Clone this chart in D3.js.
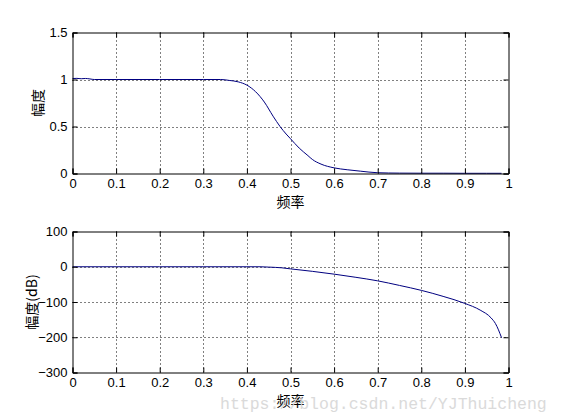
<!DOCTYPE html>
<html><head><meta charset="utf-8">
<script src="https://cdn.jsdelivr.net/npm/d3@7"></script>
<style>body{margin:0;background:#fff}svg{display:block}</style>
</head><body>
<script>
// Data
const magFreq = [0, 0.01, 0.02, 0.03, 0.04, 0.05, 0.1, 0.2, 0.3, 0.34, 0.36, 0.38, 0.40, 0.42, 0.44, 0.46, 0.476, 0.49, 0.50, 0.52, 0.54, 0.55, 0.57, 0.60, 0.63, 0.66, 0.68, 0.70, 0.75, 0.80, 0.85, 0.90, 0.95, 0.984];
const magVal  = [1.01, 1.012, 1.008, 1.011, 1.006, 1.0, 1.0, 1.0, 1.0, 1.0, 0.99, 0.975, 0.94, 0.87, 0.76, 0.61, 0.50, 0.42, 0.37, 0.27, 0.19, 0.15, 0.10, 0.06, 0.04, 0.025, 0.015, 0.008, 0.004, 0.003, 0.003, 0.002, 0.002, 0.002];
const dbFreq = [0, 0.1, 0.2, 0.3, 0.4, 0.43, 0.45, 0.48, 0.5, 0.55, 0.6, 0.65, 0.7, 0.75, 0.8, 0.85, 0.9, 0.935, 0.96, 0.97, 0.984];
const dbVal  = [0, 0, 0, 0, 0, 0, -1, -3, -6, -13, -21, -30, -40, -53, -67, -84, -104, -123, -145, -161, -201];
const xTicks = [0, 0.1, 0.2, 0.3, 0.4, 0.5, 0.6, 0.7, 0.8, 0.9, 1];
const magTicks = [0, 0.5, 1, 1.5];
const dbTicks = [-300, -200, -100, 0, 100];
const xLabel = "频率";
const magLabel = "幅度";
const dbLabel = "幅度(dB)";
const watermark = "https://blog.csdn.net/YJThuicheng";

const W = 561, H = 420;
const svg = d3.select("body").append("svg").attr("width", W).attr("height", H);

const fontTick = "'Liberation Sans', Arial, sans-serif";
const fontCJK = "'Noto Sans CJK SC', sans-serif";

function panel(top, bottom, yDomain, yTicks, freq, vals, yLab, yLabX, xLabY) {
  const x = d3.scaleLinear().domain([0, 1]).range([72.5, 508.5]);
  const y = d3.scaleLinear().domain(yDomain).range([bottom, top]);
  const g = svg.append("g");
  // grid
  g.selectAll(".gx").data(xTicks.slice(1, -1)).join("line")
    .attr("x1", d => Math.round(x(d)) + 0.5).attr("x2", d => Math.round(x(d)) + 0.5)
    .attr("y1", top).attr("y2", bottom)
    .attr("stroke", "#000").attr("stroke-width", 1).attr("stroke-dasharray", "1,3");
  g.selectAll(".gy").data(yTicks.slice(1, -1)).join("line")
    .attr("y1", d => Math.round(y(d)) + 0.5).attr("y2", d => Math.round(y(d)) + 0.5)
    .attr("x1", x(0)).attr("x2", x(1))
    .attr("stroke", "#000").attr("stroke-width", 1).attr("stroke-dasharray", "1,3");
  // data line
  const line = d3.line().x((d, i) => x(freq[i])).y(d => y(d)).curve(d3.curveMonotoneX);
  g.append("path").datum(vals).attr("d", line)
    .attr("fill", "none").attr("stroke", "#000080").attr("stroke-width", 1);
  // axes (inner ticks)
  const bottomAx = d3.axisBottom(x).tickValues(xTicks).tickSize(-5).tickPadding(5).tickFormat(d3.format("~g"));
  const topAx = d3.axisTop(x).tickValues(xTicks).tickSize(-5).tickFormat("");
  const leftAx = d3.axisLeft(y).tickValues(yTicks).tickSize(-5).tickPadding(5).tickFormat(d3.format("~g"));
  const rightAx = d3.axisRight(y).tickValues(yTicks).tickSize(-5).tickFormat("");
  const ax = [
    g.append("g").attr("transform", `translate(0,${bottom})`).call(bottomAx),
    g.append("g").attr("transform", `translate(0,${top})`).call(topAx),
    g.append("g").attr("transform", `translate(${x(0)},0)`).call(leftAx),
    g.append("g").attr("transform", `translate(${x(1)},0)`).call(rightAx)
  ];
  ax.forEach(a => {
    a.select(".domain").attr("stroke", "#000");
    a.selectAll(".tick line").attr("stroke", "#000");
    a.selectAll("text").attr("fill", "#000").style("font-family", fontTick).style("font-size", "13px");
  });
  // labels
  g.append("text").attr("x", x(0.5)).attr("y", xLabY).attr("text-anchor", "middle")
    .style("font-family", fontCJK).style("font-size", "14px").attr("fill", "#000").text(xLabel);
  g.append("text").attr("transform", `translate(${yLabX},${(top + bottom) / 2}) rotate(-90)`)
    .attr("text-anchor", "middle").attr("dominant-baseline", "central")
    .style("font-family", fontCJK).style("font-size", "14px").attr("fill", "#000").text(yLab);
}

panel(32.5, 173.5, [0, 1.5], magTicks, magFreq, magVal, magLabel, 37, 207);
panel(231.5, 372.5, [-300, 100], dbTicks, dbFreq, dbVal, dbLabel, 31, 406);

svg.append("text").attr("x", 220).attr("y", 409)
  .style("font-family", "'Liberation Mono', 'DejaVu Sans Mono', monospace")
  .style("font-size", "16.5px").attr("fill", "#d4d4d4").attr("opacity", 0.85).text(watermark);
</script>
</body></html>
